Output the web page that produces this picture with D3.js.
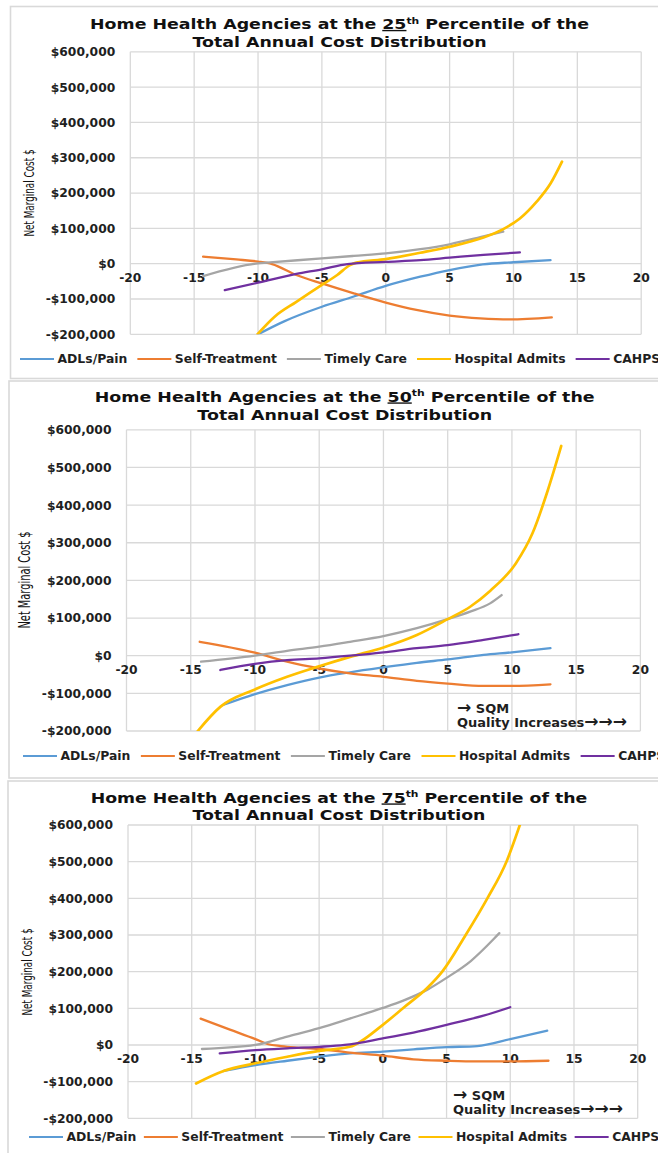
<!DOCTYPE html>
<html><head><meta charset="utf-8">
<script src="https://cdn.jsdelivr.net/npm/d3@7"></script>
<style>body{margin:0;background:#fff} svg{display:block}</style>
</head><body><svg id="c" width="658" height="1153"></svg>
<script>
// ---------- data ----------
const xTicks = [-20,-15,-10,-5,0,5,10,15,20];
const yTicks = [-200000,-100000,0,100000,200000,300000,400000,500000,600000];
const seriesNames = ["ADLs/Pain","Self-Treatment","Timely Care","Hospital Admits","CAHPS"];
const seriesColors = ["#5B9BD5","#ED7D31","#A5A5A5","#FFC000","#7030A0"];
const percentiles = ["25","50","75"];
const noteArrow = "\u2192";
const noteSQM = " SQM";
const noteQuality = "Quality Increases";
const yAxisTitle = "Net Marginal Cost $";

// 25th percentile
const p25_adls = [[-10,-200000],[-8,-164000],[-5,-122000],[-2.5,-93000],[0,-63000],[2.7,-37000],[5,-18000],[7.6,-2000],[10,4000],[12.9,10000]];
const p25_self = [[-14.3,20000],[-11.7,12000],[-10,6000],[-8.9,-1000],[-7,-32000],[-5,-56000],[-2.5,-84000],[0,-110000],[2.4,-131000],[5,-147000],[7.4,-155000],[9.7,-158000],[13,-152000]];
const p25_timely = [[-14.3,-35000],[-10,1000],[-9.3,3000],[-5,15000],[-2.5,22000],[0,29000],[2.7,41000],[5,55000],[7.4,75000],[9.2,91000]];
const p25_hosp = [[-10.05,-200000],[-8.7,-150000],[-7,-108000],[-5,-60000],[-3.8,-32000],[-2.8,-4000],[-2.3,3000],[0,13000],[2.7,31000],[5,48000],[7.65,74000],[9.2,98000],[10.5,128000],[11.8,175000],[12.9,227000],[13.8,289000]];
const p25_cahps = [[-12.6,-75000],[-10,-54000],[-7,-29000],[-5,-16000],[-3,-1000],[0,5000],[2.7,10000],[5,17000],[7.65,25000],[10.5,32000]];

// 50th percentile
const p50_adls = [[-12.5,-131000],[-10,-102000],[-7.5,-78000],[-5,-58000],[-2.6,-44000],[0,-31000],[2.6,-19000],[5,-10000],[7.8,2000],[10,9000],[13,20000]];
const p50_self = [[-14.3,37000],[-10,8000],[-7.5,-16000],[-5,-34000],[-2.6,-47000],[0,-56000],[2.6,-67000],[5,-74000],[7.8,-80000],[10,-80000],[13,-76000]];
const p50_timely = [[-14.2,-16000],[-10,0],[-7.5,13000],[-5,24000],[-2.6,37000],[0,52000],[2.6,73000],[5,97000],[6.75,117000],[8.3,139000],[9.2,161000]];
const p50_hosp = [[-14.5,-202000],[-12.7,-136000],[-10.1,-91000],[-7.5,-56000],[-5,-28000],[-2.6,-3000],[0,22000],[2.6,55000],[5,97000],[6.75,130000],[8.3,172000],[10.3,245000],[11.6,325000],[12.8,440000],[13.84,557000]];
const p50_cahps = [[-12.7,-38000],[-10,-22000],[-7.5,-12000],[-5,-7000],[-2.6,0],[0,9000],[2.6,20000],[5,28000],[7.8,42000],[10.5,57000]];

// 75th percentile
const p75_adls = [[-12.5,-71000],[-10,-55000],[-7.5,-43000],[-5,-32000],[-2.6,-23000],[0,-18000],[2.4,-12000],[5,-6000],[7.4,-3000],[10,16000],[12.9,39000]];
const p75_self = [[-14.3,72000],[-12,42000],[-10,16000],[-9,2000],[-8,-3000],[-7.5,-5000],[-5,-11000],[-2.6,-21000],[0,-29000],[2.4,-39000],[5,-43000],[7.4,-45000],[10,-45000],[13,-43000]];
const p75_timely = [[-14.2,-11000],[-10,0],[-7.5,23000],[-5,46000],[-2.6,72000],[0,101000],[1.6,121000],[3.5,151000],[5,183000],[6.9,229000],[8.7,289000],[9.14,305000]];
const p75_hosp = [[-14.66,-105000],[-12.5,-71000],[-10,-50000],[-7.5,-32000],[-5,-16000],[-2.6,-5000],[0,55000],[1.6,101000],[3.5,156000],[4.66,200000],[6.5,300000],[8.2,400000],[9.7,500000],[10.75,600000]];
const p75_cahps = [[-12.8,-23000],[-10,-14000],[-7.5,-9000],[-5,-5000],[-3,0],[0,18000],[2.4,34000],[5,55000],[7.9,80000],[10,103000]];

const panelSeries = [
  [p25_adls,p25_self,p25_timely,p25_hosp,p25_cahps],
  [p50_adls,p50_self,p50_timely,p50_hosp,p50_cahps],
  [p75_adls,p75_self,p75_timely,p75_hosp,p75_cahps]
];

// ---------- layout ----------
const layout = [
  {box:[10.5,6.5,720,372], plot:[130.3,51.8,641.2,334.3], titleX:339.5, titleY:[29,47], titleW:499, legendY:359, legendX:20, legendGap:10, ytX:29, ytY:193, ytLen:87, note:null},
  {box:[9,381,720,397], plot:[126.5,429.8,640.4,731], titleX:344.7, titleY:[401.5,420], titleW:500, legendY:756, legendX:23, legendGap:10.5, ytX:25, ytY:580, ytLen:97, note:[457,708,722]},
  {box:[8,781,720,420], plot:[128,825,637.7,1118.3], titleX:339, titleY:[802.5,819.5], titleW:497, legendY:1137, legendX:29, legendGap:7.5, ytX:27, ytY:972, ytLen:87, note:[453,1095,1109]}
];

const svg = d3.select("#c");
const BOLD = "'DejaVu Sans', Verdana, sans-serif";
const fmt = v => (v<0?"-":"") + "$" + d3.format(",")(Math.abs(v));

layout.forEach((L, pi) => {
  const g = svg.append("g");
  g.append("rect").attr("x",L.box[0]).attr("y",L.box[1]).attr("width",L.box[2]).attr("height",L.box[3])
    .attr("fill","#fff").attr("stroke","#d9d9d9").attr("stroke-width",1.6);

  const [x0,y0,x1,y1] = L.plot;
  const x = d3.scaleLinear().domain([-20,20]).range([x0,x1]);
  const y = d3.scaleLinear().domain([-200000,600000]).range([y1,y0]);

  // gridlines
  g.append("g").selectAll("line").data(xTicks).join("line")
    .attr("x1",d=>x(d)).attr("x2",d=>x(d)).attr("y1",y0).attr("y2",y1)
    .attr("stroke","#d9d9d9").attr("stroke-width",1.3);
  g.append("g").selectAll("line").data(yTicks).join("line")
    .attr("x1",x0).attr("x2",x1).attr("y1",d=>y(d)).attr("y2",d=>y(d))
    .attr("stroke","#d9d9d9").attr("stroke-width",1.3);

  // y tick labels
  g.append("g").selectAll("text").data(yTicks).join("text")
    .attr("x",x0-15).attr("y",d=>y(d)).attr("dy","0.36em").attr("text-anchor","end")
    .attr("font-family",BOLD).attr("font-weight","bold").attr("font-size",12.3).attr("fill","#1f1f1f")
    .text(fmt);
  // x tick labels at zero line
  g.append("g").selectAll("text").data(xTicks).join("text")
    .attr("x",d=>x(d)).attr("y",y(0)+13.5).attr("dy","0.36em").attr("text-anchor","middle")
    .attr("font-family",BOLD).attr("font-weight","bold").attr("font-size",12.3).attr("fill","#1f1f1f")
    .text(d=>d);

  // title (font slightly stretched horizontally to match the wide original face)
  const tg1 = g.append("g");
  const t1 = tg1.append("text").attr("x",0).attr("y",0).attr("text-anchor","middle")
    .attr("font-family",BOLD).attr("font-weight","bold").attr("font-size",13.8).attr("fill","#111");
  t1.append("tspan").text("Home Health Agencies at the ");
  t1.append("tspan").style("text-decoration","underline").text(percentiles[pi]);
  t1.append("tspan").attr("font-size","0.62em").attr("dy",-5.5).text("th");
  t1.append("tspan").attr("dy",5.5).text(" Percentile of the");
  const tg2 = g.append("g");
  tg2.append("text").attr("x",0).attr("y",0).attr("text-anchor","middle")
    .attr("font-family",BOLD).attr("font-weight","bold").attr("font-size",13.8).attr("fill","#111")
    .text("Total Annual Cost Distribution");
  const w = t1.node().getComputedTextLength();
  const sx = L.titleW / w;
  tg1.attr("transform",`translate(${L.titleX},${L.titleY[0]}) scale(${sx},1)`);
  tg2.attr("transform",`translate(${L.titleX},${L.titleY[1]}) scale(${sx},1)`);

  // y axis title
  g.append("text").attr("transform",`translate(${L.ytX},${L.ytY}) rotate(-90)`)
    .attr("text-anchor","middle").attr("dy","0.35em")
    .attr("font-family","'Liberation Sans Narrow','DejaVu Sans Condensed',sans-serif").attr("font-size",pi===1?15:14.5)
    .attr("fill","#111").attr("textLength",L.ytLen).attr("lengthAdjust","spacingAndGlyphs")
    .text(yAxisTitle);

  // series lines
  const cid = "clip"+pi;
  svg.append("clipPath").attr("id",cid).append("rect")
    .attr("x",x0).attr("y",y0).attr("width",x1-x0).attr("height",y1-y0);
  const line = d3.line().x(d=>x(d[0])).y(d=>y(d[1])).curve(d3.curveMonotoneX);
  g.append("g").attr("clip-path",`url(#${cid})`).selectAll("path").data(panelSeries[pi]).join("path")
    .attr("d",line).attr("fill","none").attr("stroke",(d,i)=>seriesColors[i])
    .attr("stroke-width",(d,i)=>i===3?2.7:2.3).attr("stroke-linejoin","round").attr("stroke-linecap","round");

  // annotation
  if (L.note) {
    const a1 = g.append("text").attr("x",L.note[0]).attr("y",L.note[1]).attr("dy","0.36em")
      .attr("font-family",BOLD).attr("font-weight","bold").attr("font-size",13).attr("fill","#1f1f1f");
    a1.append("tspan").attr("font-size",17).text(noteArrow);
    a1.append("tspan").text(noteSQM);
    const a2 = g.append("text").attr("x",L.note[0]).attr("y",L.note[2]).attr("dy","0.36em")
      .attr("font-family",BOLD).attr("font-weight","bold").attr("font-size",13).attr("fill","#1f1f1f");
    a2.append("tspan").text(noteQuality);
    a2.append("tspan").attr("font-size",17).text(noteArrow+noteArrow+noteArrow);
  }

  // legend
  let lx = L.legendX;
  seriesNames.forEach((nm,i)=>{
    g.append("line").attr("x1",lx).attr("x2",lx+34).attr("y1",L.legendY).attr("y2",L.legendY)
      .attr("stroke",seriesColors[i]).attr("stroke-width",2.2);
    const tt = g.append("text").attr("x",lx+37.5).attr("y",L.legendY).attr("dy","0.36em")
      .attr("font-family",BOLD).attr("font-weight","bold").attr("font-size",12.4).attr("fill","#1f1f1f")
      .text(nm);
    lx += 37.5 + tt.node().getComputedTextLength() + L.legendGap;
  });
});
</script></body></html>
